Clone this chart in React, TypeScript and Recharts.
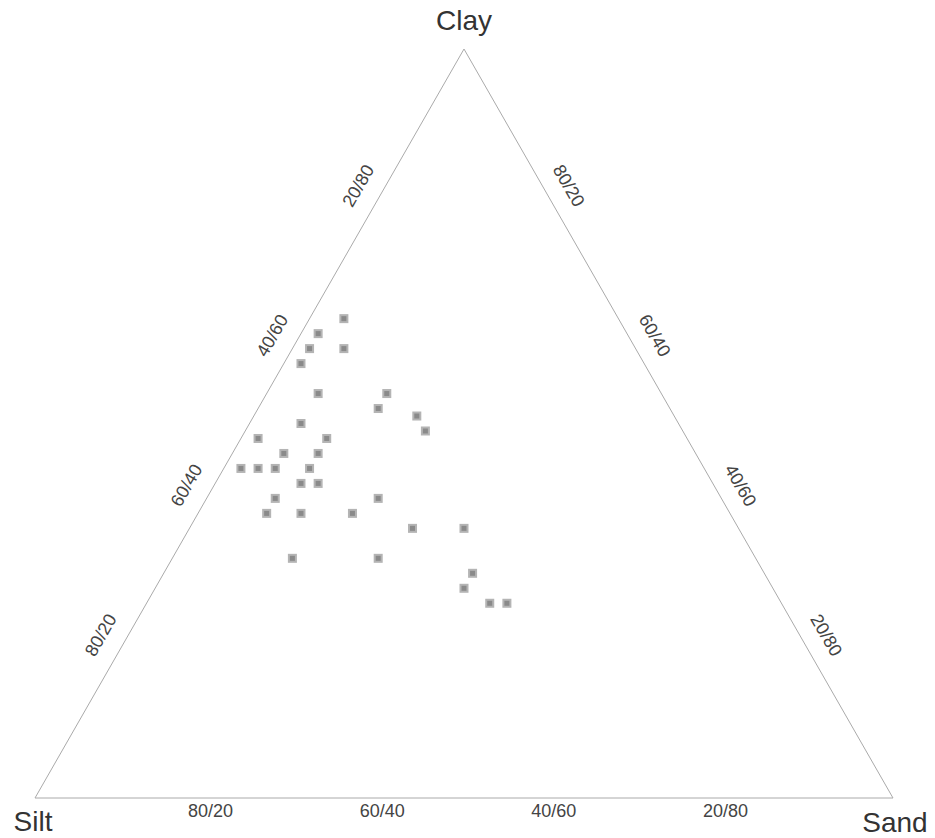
import { ReferenceLine, Scatter, ScatterChart, XAxis, YAxis } from "recharts"

// Sample compositions (percent). Silt is the remainder.
const clayPct = [64, 62, 60, 60, 58, 54, 54, 52, 51, 49, 50, 48, 48, 46, 46, 44, 44, 44, 44, 42, 42, 40, 40, 38, 38, 38, 36, 36, 32, 32, 30, 28, 26, 26]
const sandPct = [4, 2, 2, 6, 2, 6, 14, 14, 19, 21, 6, 2, 10, 6, 10, 2, 4, 6, 10, 10, 12, 8, 20, 8, 12, 18, 26, 32, 14, 24, 36, 36, 40, 42]

// Axis tick positions and their labels
const tickPct = [20, 40, 60, 80]
const leftLabels = ["80/20", "60/40", "40/60", "20/80"] // silt/clay along the left edge
const rightLabels = ["20/80", "40/60", "60/40", "80/20"] // along the right edge
const bottomLabels = ["80/20", "60/40", "40/60", "20/80"] // silt/sand along the base

const vertexNames = ["Clay", "Silt", "Sand"]

// ternary -> cartesian (unit triangle, base on y=0)
const toXY = (clay: number, sand: number) => ({ x: sand / 100 + clay / 200, y: clay / 100 })

const points = clayPct.map((c, i) => toXY(c, sandPct[i]))

const tickData = [
  ...tickPct.map((p, i) => ({ ...toXY(p, 0), label: leftLabels[i], side: "left" })),
  ...tickPct.map((p, i) => ({ ...toXY(p, 100 - p), label: rightLabels[i], side: "right" })),
  ...tickPct.map((p, i) => ({ ...toXY(0, p), label: bottomLabels[i], side: "bottom" })),
]

const vertexData = [
  { ...toXY(100, 0), label: vertexNames[0] },
  { ...toXY(0, 0), label: vertexNames[1] },
  { ...toXY(0, 100), label: vertexNames[2] },
]

const Marker = (props: any) => {
  const { cx, cy } = props
  return (
    <g>
      <rect x={cx - 4.5} y={cy - 4.5} width={9} height={9} fill="#b4b4b4" />
      <rect x={cx - 2.5} y={cy - 2.5} width={5} height={5} fill="#8a8a8a" />
    </g>
  )
}

const TickText = (props: any) => {
  const { cx, cy, payload } = props
  let dx = 0
  let dy = 0
  let rot = 0
  if (payload.side === "left") {
    dx = -20
    dy = -13
    rot = -60
  } else if (payload.side === "right") {
    dx = 19
    dy = -13
    rot = 60
  } else {
    dx = 4
    dy = 13
  }
  const x = cx + dx
  const y = cy + dy
  return (
    <text
      x={x}
      y={y}
      textAnchor="middle"
      dominantBaseline="central"
      fontSize={18}
      fill="#444"
      fontFamily="Liberation Sans, Arial, sans-serif"
      transform={rot ? `rotate(${rot} ${x} ${y})` : undefined}
    >
      {payload.label}
    </text>
  )
}

const VertexText = (props: any) => {
  const { cx, cy, payload } = props
  const offsets: Record<string, [number, number]> = {
    Clay: [0, -19],
    Silt: [-2, 33],
    Sand: [2, 34],
  }
  const [dx, dy] = offsets[payload.label]
  return (
    <text
      x={cx + dx}
      y={cy + dy}
      textAnchor="middle"
      fontSize={28}
      fill="#333"
      fontFamily="Liberation Sans, Arial, sans-serif"
    >
      {payload.label}
    </text>
  )
}

const edge = { stroke: "#aaaaaa", strokeWidth: 1, ifOverflow: "visible" as const }

export default function App() {
  return (
    <div style={{ position: "absolute", left: 0, top: 0, background: "#fff" }}>
      <ScatterChart width={935} height={838} margin={{ top: 49, right: 42, bottom: 40, left: 35 }}>
        <XAxis type="number" dataKey="x" domain={[0, 1]} hide />
        <YAxis type="number" dataKey="y" domain={[0, 1]} hide />
        <ReferenceLine segment={[{ x: 0, y: 0 }, { x: 1, y: 0 }]} {...edge} />
        <ReferenceLine segment={[{ x: 0, y: 0 }, { x: 0.5, y: 1 }]} {...edge} />
        <ReferenceLine segment={[{ x: 1, y: 0 }, { x: 0.5, y: 1 }]} {...edge} />
        <Scatter data={tickData} shape={TickText} isAnimationActive={false} />
        <Scatter data={vertexData} shape={VertexText} isAnimationActive={false} />
        <Scatter data={points} shape={Marker} isAnimationActive={false} />
      </ScatterChart>
    </div>
  )
}
